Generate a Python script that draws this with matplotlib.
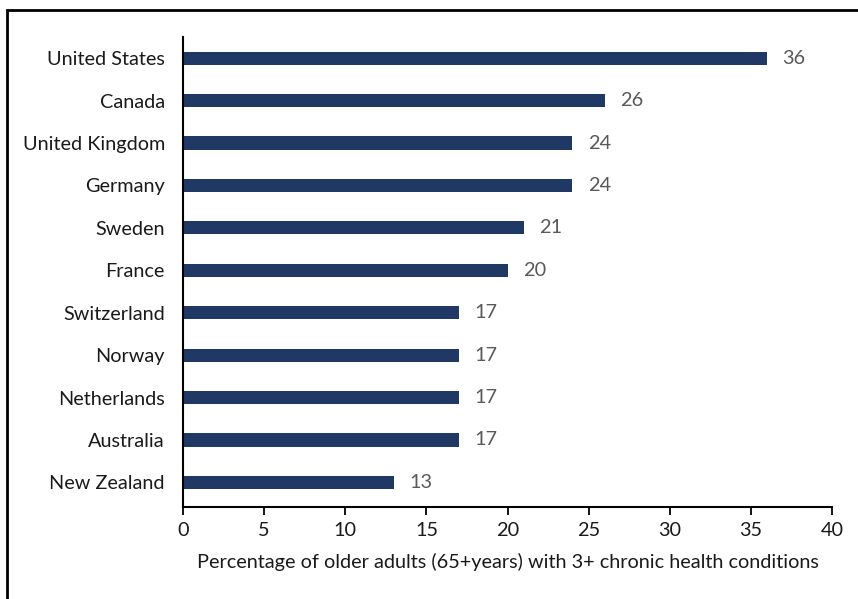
import matplotlib
matplotlib.use("Agg")
import matplotlib.pyplot as plt
from matplotlib.patches import Rectangle

countries = ['United States', 'Canada', 'United Kingdom', 'Germany', 'Sweden', 'France',
             'Switzerland', 'Norway', 'Netherlands', 'Australia', 'New Zealand']
values = [36, 26, 24, 24, 21, 20, 17, 17, 17, 17, 13]
x_ticks = [0, 5, 10, 15, 20, 25, 30, 35, 40]

plt.rcParams['font.family'] = ['Lato', 'DejaVu Sans']
FS = 14.3

fig = plt.figure(figsize=(8.58, 5.99), dpi=100)
W, H = 858, 599
ax = fig.add_axes([183 / W, 1 - 507 / H, (832 - 183) / W, (507 - 37) / H])

pos = list(range(len(countries)))
ax.barh(pos, values, height=0.31, color='#1F3864')
for p, v in zip(pos, values):
    ax.annotate(str(v), (v, p), xytext=(11, 0), textcoords='offset points',
                ha='left', va='center', fontsize=FS, color='#595959')

ax.set_ylim(10.58, -0.5)
ax.set_xlim(0, 40)
ax.set_yticks(pos)
ax.set_yticklabels(countries, fontsize=FS, color='#1a1a1a')
ax.set_xticks(x_ticks)
ax.set_xticklabels([str(t) for t in x_ticks], fontsize=FS, color='#1a1a1a')
ax.tick_params(axis='y', length=0, pad=13)
ax.tick_params(axis='x', length=6, width=1.3, direction='out', pad=5)
ax.spines['top'].set_visible(False)
ax.spines['right'].set_visible(False)
ax.spines['left'].set_linewidth(1.5)
ax.spines['bottom'].set_linewidth(1.5)
ax.set_xlabel('Percentage of older adults (65+years) with 3+ chronic health conditions',
              fontsize=FS, color='#1a1a1a', labelpad=10)

# frame around the chart (cut off at right and bottom)
fig.patches.append(Rectangle((7 / W, -0.1), 1.2, 1 - 10 / H + 0.1, transform=fig.transFigure,
                             fill=False, edgecolor='black', linewidth=2))

fig.savefig('out.png', dpi=100)
